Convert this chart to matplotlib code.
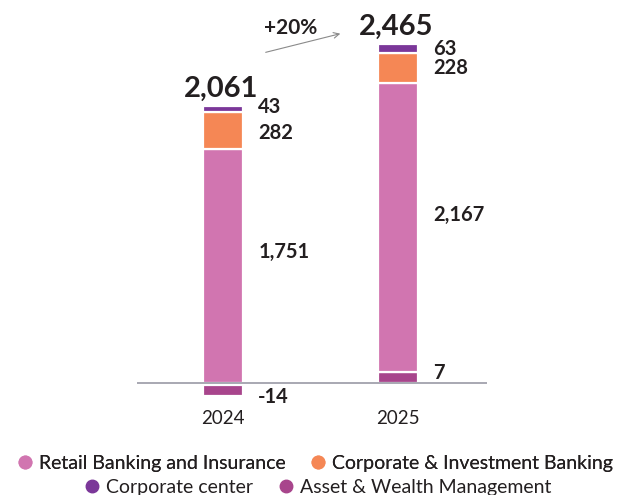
import matplotlib.pyplot as plt
from matplotlib.lines import Line2D

plt.rcParams['font.family'] = ['Lato', 'DejaVu Sans']

years = ["2024", "2025"]
retail = [1751, 2167]
cib = [282, 228]
corp_center = [43, 63]
awm = [-14, 7]
totals = [2061, 2465]
growth_label = "+20%"

series_names = ["Retail Banking and Insurance", "Corporate & Investment Banking",
                "Corporate center", "Asset & Wealth Management"]
colors = ["#D175B0", "#F58755", "#7B3799", "#A8458C"]
text_color = "#231F20"

# the asset & wealth segment is tiny, give it a minimum drawn height
MIN_H = 82


def shown(v):
    if v == 0:
        return 0
    return max(abs(v), MIN_H) * (1 if v > 0 else -1)


fig = plt.figure(figsize=(6.22, 4.95), dpi=100)
ax = fig.add_axes([137 / 622, 95 / 495, 350 / 622, 400 / 495])
scale = 0.1334  # px per unit
ax.set_xlim(-0.491, 1.509)
ax.set_ylim(-17 / scale, 383 / scale)

width = 0.229
edge = dict(edgecolor="white", linewidth=1.6)
# label nudges (points) for awm, retail, cib, corporate center
nudges = [(-4.5, 10.5, -2, 1.5), (3, 9, 0, -0.5)]
for i in range(len(years)):
    a = shown(awm[i])
    base = max(a, 0)
    neg_gap = -15 if a < 0 else 0
    ax.bar(i, a, width, bottom=neg_gap, color=colors[3], **edge)
    ax.bar(i, retail[i], width, bottom=base, color=colors[0], **edge)
    b2 = base + retail[i]
    ax.bar(i, cib[i], width, bottom=b2, color=colors[1], **edge)
    b3 = b2 + cib[i]
    cc = corp_center[i]
    ax.bar(i, cc, width, bottom=b3, color=colors[2], **edge)
    top = b3 + cc

    ax.annotate(f"{totals[i]:,}", (i, top), xytext=(-1, 6.5), textcoords="offset points",
                ha="center", va="baseline", fontsize=21, fontweight="bold", color=text_color)

    xr = i + width / 2
    segs = [(neg_gap + a / 2, awm[i]), (base + retail[i] / 2, retail[i]),
            (b2 + cib[i] / 2, cib[i]), (b3 + cc / 2, corp_center[i])]
    for (y, v), dy in zip(segs, nudges[i]):
        ax.annotate(f"{v:,}", (xr, y), xytext=(11, dy), textcoords="offset points",
                    ha="left", va="center", fontsize=14.5, fontweight="bold", color=text_color)

ax.axhline(0, color="#9a9aa5", lw=1.2, zorder=5)
for s in ax.spines.values():
    s.set_visible(False)
ax.set_yticks([])
ax.set_xticks(range(len(years)), years)
ax.tick_params(axis="x", length=0, pad=7, labelsize=13.5, labelcolor=text_color)

# growth arrow between the two totals
ax.annotate("", xy=(343, 462), xytext=(263, 442), xycoords="figure pixels",
            textcoords="figure pixels",
            arrowprops=dict(arrowstyle="->", color="#8a8a8a", lw=0.8))
fig.text(291 / 622, 467 / 495, growth_label, ha="center", va="center",
         fontsize=15, fontweight="bold", color=text_color)

handles = [Line2D([], [], marker="o", ls="", markersize=9, color=c) for c in colors]
leg_kw = dict(loc="center", ncol=2, frameon=False, fontsize=14, handletextpad=0.22,
              columnspacing=1.2, handlelength=1.0, labelcolor=text_color)
leg1 = fig.legend(handles[:2], series_names[:2], bbox_to_anchor=(314 / 622, 32 / 495), **leg_kw)
fig.add_artist(leg1)
fig.legend(handles[2:], series_names[2:], bbox_to_anchor=(317 / 622, 8 / 495), **leg_kw)

fig.savefig("out.png", dpi=100)
